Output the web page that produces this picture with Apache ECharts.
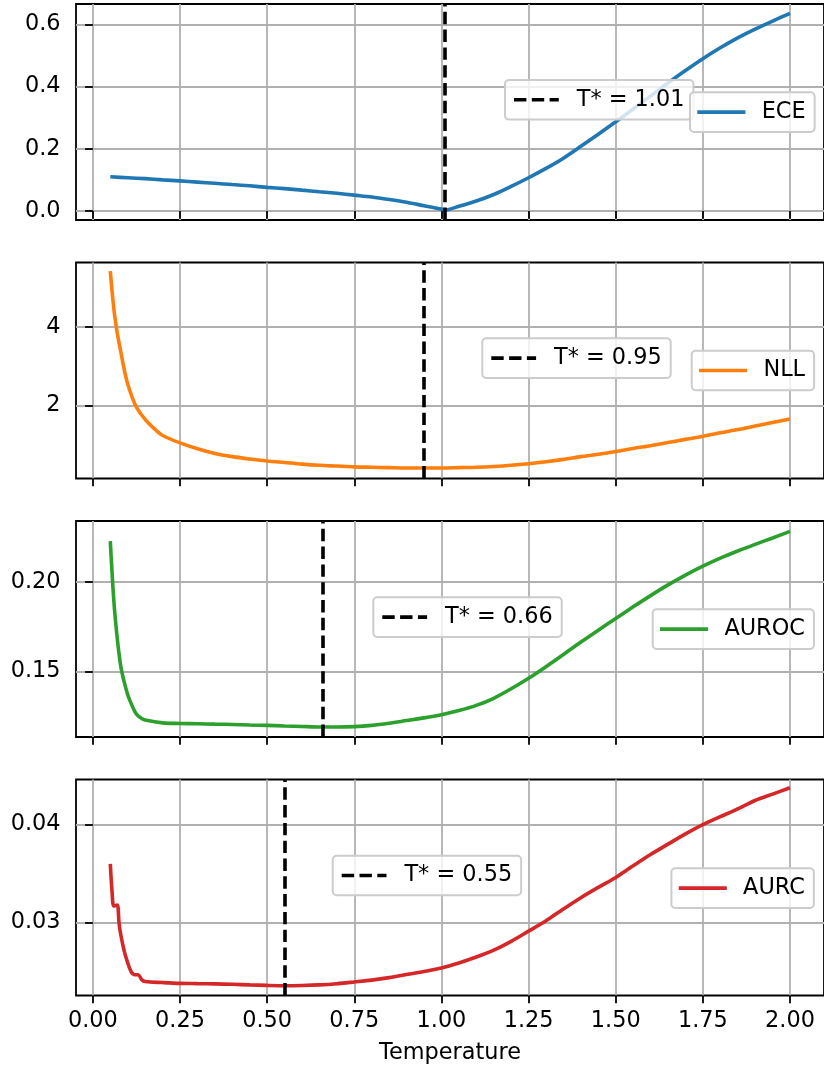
<!DOCTYPE html>
<html><head><meta charset="utf-8">
<script src="https://cdn.jsdelivr.net/npm/echarts@6/dist/echarts.min.js"></script>
<style>html,body{margin:0;padding:0;background:#fff}#c{width:824px;height:1070px}</style>
</head><body><div id="c"></div>
<script>
// ---------------- data ----------------
const metricNames = ['ECE', 'NLL', 'AUROC', 'AURC'];
const tStar = [1.01, 0.95, 0.66, 0.55];

const eceT = [0.05,0.10,0.15,0.20,0.25,0.30,0.35,0.40,0.45,0.50,0.55,0.60,0.65,0.70,0.75,0.80,0.85,0.90,0.95,1.00,1.01,1.05,1.10,1.15,1.20,1.25,1.30,1.35,1.40,1.45,1.50,1.55,1.60,1.65,1.70,1.75,1.80,1.85,1.90,1.95,2.00];
const eceV = [0.110,0.107,0.104,0.100,0.097,0.093,0.089,0.085,0.081,0.076,0.072,0.067,0.062,0.057,0.051,0.045,0.037,0.028,0.017,0.006,0.003,0.015,0.032,0.053,0.079,0.107,0.137,0.170,0.208,0.247,0.287,0.328,0.370,0.412,0.452,0.490,0.525,0.557,0.585,0.611,0.636];

const nllT = [0.05,0.06,0.07,0.08,0.09,0.10,0.12,0.14,0.16,0.18,0.20,0.25,0.30,0.35,0.40,0.45,0.50,0.55,0.60,0.65,0.70,0.75,0.80,0.85,0.90,0.95,1.00,1.05,1.10,1.15,1.20,1.25,1.30,1.35,1.40,1.45,1.50,1.55,1.60,1.65,1.70,1.75,1.80,1.85,1.90,1.95,2.00];
const nllV = [5.43,4.48,3.85,3.38,2.92,2.55,2.05,1.76,1.55,1.38,1.24,1.05,0.90,0.78,0.70,0.64,0.59,0.55,0.51,0.48,0.46,0.44,0.43,0.42,0.41,0.41,0.41,0.42,0.43,0.45,0.48,0.52,0.57,0.63,0.70,0.76,0.83,0.91,0.98,1.06,1.14,1.22,1.31,1.39,1.48,1.57,1.66];

const aurocT = [0.05,0.06,0.07,0.08,0.09,0.10,0.11,0.12,0.13,0.14,0.15,0.20,0.25,0.30,0.35,0.40,0.45,0.50,0.55,0.60,0.65,0.70,0.75,0.80,0.85,0.90,0.95,1.00,1.05,1.10,1.15,1.20,1.25,1.30,1.35,1.40,1.45,1.50,1.55,1.60,1.65,1.70,1.75,1.80,1.85,1.90,1.95,2.00];
const aurocV = [0.2230,0.1900,0.1685,0.1530,0.1440,0.1370,0.1320,0.1277,0.1250,0.1237,0.1228,0.1212,0.1209,0.1207,0.1205,0.1203,0.1200,0.1198,0.1195,0.1192,0.1189,0.1189,0.1191,0.1198,0.1210,0.1225,0.1240,0.1258,0.1281,0.1310,0.1350,0.1403,0.1462,0.1527,0.1595,0.1665,0.1731,0.1797,0.1862,0.1925,0.1985,0.2040,0.2090,0.2135,0.2175,0.2212,0.2248,0.2285];

const aurcT = [0.05,0.055,0.06,0.07,0.075,0.08,0.09,0.10,0.11,0.12,0.13,0.14,0.15,0.20,0.25,0.30,0.35,0.40,0.45,0.50,0.55,0.60,0.65,0.70,0.75,0.80,0.85,0.90,0.95,1.00,1.05,1.10,1.15,1.20,1.25,1.30,1.35,1.40,1.45,1.50,1.55,1.60,1.65,1.70,1.75,1.80,1.85,1.90,1.95,2.00];
const aurcV = [0.0360,0.0332,0.0317,0.0318,0.0300,0.0288,0.0271,0.0259,0.0250,0.0247,0.0247,0.0242,0.0240,0.0239,0.02382,0.02379,0.02376,0.02372,0.02366,0.02361,0.02358,0.02360,0.02366,0.02378,0.02396,0.02415,0.02440,0.02471,0.02503,0.02539,0.02590,0.02650,0.02720,0.02810,0.02914,0.03020,0.03140,0.03255,0.03360,0.03461,0.03580,0.03695,0.03800,0.03905,0.04000,0.04080,0.04160,0.04245,0.04310,0.04375];

const xTicks = [0, 0.25, 0.5, 0.75, 1.0, 1.25, 1.5, 1.75, 2.0];
const yTicks = [[0, 0.2, 0.4, 0.6], [2, 4], [0.15, 0.20], [0.03, 0.04]];
const yDecimals = [1, 0, 2, 2];
const xRange = [-0.0484, 2.0975];
const yRanges = [[-0.029, 0.666], [0.143, 5.65], [0.1133, 0.2343], [0.02258, 0.04459]];
const xLabel = 'Temperature';

// ---------------- styles ----------------
const colors = ['#1f77b4', '#ff7f0e', '#2ca02c', '#d62728'];
const FONT = 'DejaVu Sans';
const FS = 22.4;
const LW = 3.6;
const GW = 1.79;
const gridTops = [4, 262.5, 521, 779.5];
const gridH = 216;
const legendPos = [
  [[505, 80], [690, 92.3]],
  [[482.3, 338.3], [691.7, 350.7]],
  [[373.3, 597.3], [652.7, 609.3]],
  [[332.7, 855.7], [671.4, 868.3]]
];
const seriesData = [[eceT, eceV], [nllT, nllV], [aurocT, aurocV], [aurcT, aurcV]];

const grids = [], xAxes = [], yAxes = [], series = [], legends = [];
const tickStyle = {color: '#000', width: GW};
const dashIcon = 'path://M0,0h12.4v3.6h-12.4z M17.8,0h12.4v3.6h-12.4z M35.6,0h9.2v3.6h-9.2z';

for (let i = 0; i < 4; i++) {
  grids.push({left: 76, width: 753, top: gridTops[i], height: gridH,
    show: true, borderColor: '#000', borderWidth: GW, backgroundColor: 'transparent'});
  const last = i === 3;
  xAxes.push({
    type: 'value', gridIndex: i, min: xRange[0], max: xRange[1],
    axisLine: {show: false},
    axisTick: {show: true, length: 7.8, lineStyle: tickStyle, customValues: xTicks},
    axisLabel: {show: last, customValues: xTicks, margin: 15, color: '#000', fontFamily: FONT, fontSize: FS,
      formatter: v => v.toFixed(2)},
    splitLine: {show: true, lineStyle: {color: '#b0b0b0', width: GW}},
    name: last ? xLabel : '', nameLocation: 'middle', nameGap: 47,
    nameTextStyle: {color: '#000', fontFamily: FONT, fontSize: FS}
  });
  yAxes.push({
    type: 'value', gridIndex: i, min: yRanges[i][0], max: yRanges[i][1],
    axisLine: {show: false},
    axisTick: {show: true, length: 7.8, lineStyle: tickStyle, customValues: yTicks[i]},
    axisLabel: {show: true, customValues: yTicks[i], margin: 15.5, color: '#000', fontFamily: FONT, fontSize: FS,
      formatter: v => v.toFixed(yDecimals[i])},
    splitLine: {show: true, lineStyle: {color: '#b0b0b0', width: GW}}
  });
  const [xs, ys] = seriesData[i];
  series.push({
    type: 'line', name: metricNames[i], xAxisIndex: i, yAxisIndex: i,
    data: xs.map((x, k) => [x, ys[k]]),
    showSymbol: false, symbol: 'none', color: colors[i], smooth: 0.3,
    lineStyle: {color: colors[i], width: LW}, z: 3
  });
  const tName = 'T* = ' + tStar[i].toFixed(2);
  series.push({
    type: 'line', name: tName, xAxisIndex: i, yAxisIndex: i, data: [],
    symbol: 'none', color: '#000', lineStyle: {color: '#000', width: LW, type: [12.4, 5.4]},
    markLine: {silent: true, symbol: ['none', 'none'], label: {show: false}, animation: false,
      lineStyle: {color: '#000', width: LW, type: [12.4, 5.4]},
      data: [{xAxis: tStar[i]}]},
    z: 4
  });
  const common = {
    orient: 'horizontal', itemHeight: 3.6,
    borderColor: '#cccccc', borderWidth: 2, borderRadius: 4,
    backgroundColor: 'rgba(255,255,255,0.8)', selectedMode: false, z: 10
  };
  legends.push(Object.assign({}, common, {data: [tName], icon: dashIcon,
    itemWidth: 44.8, padding: [8.8, 9, 8.8, 9],
    textStyle: {color: '#000', fontFamily: FONT, fontSize: FS, padding: [0, 0, 0, 12.9]},
    left: legendPos[i][0][0], top: legendPos[i][0][1]}));
  legends.push(Object.assign({}, common, {data: [metricNames[i]], icon: 'rect',
    itemWidth: 48.1, padding: [8.8, 9, 8.8, 7.3],
    textStyle: {color: '#000', fontFamily: FONT, fontSize: FS, padding: [0, 0, 0, 11.3]},
    left: legendPos[i][1][0], top: legendPos[i][1][1]}));
}

const chart = echarts.init(document.getElementById('c'), null, {renderer: 'canvas'});
chart.setOption({
  animation: false,
  backgroundColor: '#fff',
  grid: grids, xAxis: xAxes, yAxis: yAxes, series: series, legend: legends
});
</script>
</body></html>
